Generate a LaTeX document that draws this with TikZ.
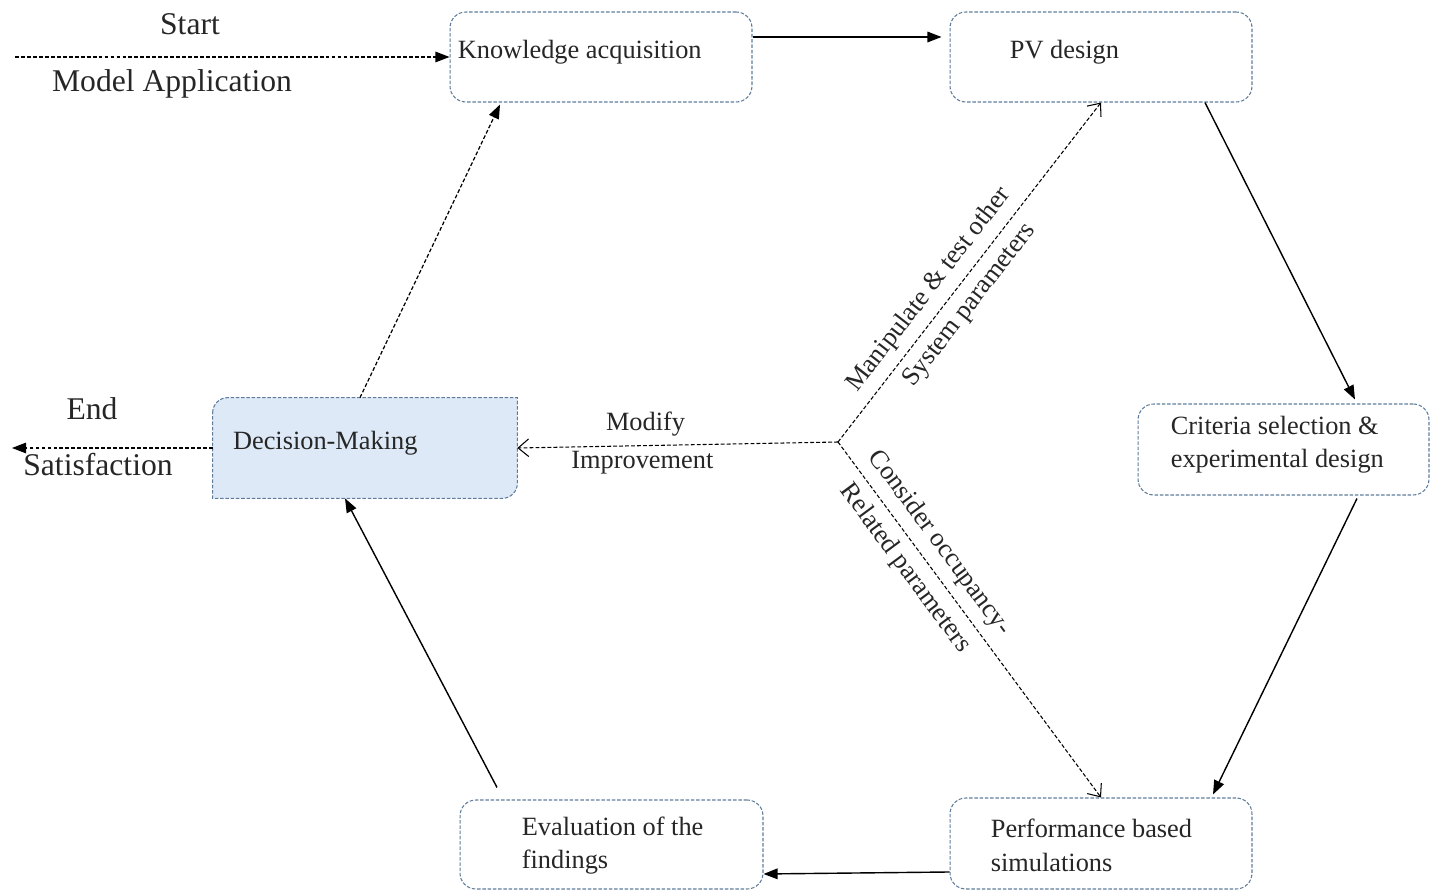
\documentclass[tikz,border=0pt]{standalone}
\usepackage{fontspec}
\setmainfont{Liberation Serif}
\usepackage{tikz}
\usetikzlibrary{arrows.meta, positioning, backgrounds, calc}
\definecolor{boxedge}{RGB}{95,125,155}
\definecolor{decfill}{RGB}{221,233,246}

\begin{document}
\begin{tikzpicture}[
  x=0.02cm, y=-0.02cm,
  box/.style={draw=boxedge, line width=0.6pt, dash pattern=on 2pt off 1pt, rounded corners=9pt, minimum width=6.04cm, minimum height=1.8cm, inner sep=0pt},
  boxtxt/.style={anchor=west, align=left, inner sep=0pt, font=\fontsize{15}{19}\selectfont, text=black!85},
  lbl/.style={anchor=base, inner sep=0pt, font=\fontsize{18}{22}\selectfont, text=black!85},
  side/.style={font=\fontsize{15}{18}\selectfont, text=black!85, inner sep=2pt},
  mainflow/.style={line width=0.8pt, -{Triangle[length=8pt, width=6pt]}},
  dashflow/.style={mainflow, line width=0.7pt, dash pattern=on 2.2pt off 1.2pt},
  feedback/.style={line width=0.6pt, dash pattern=on 2.2pt off 1.2pt, -{Straight Barb[length=6pt, width=10pt]}},
]
\useasboundingbox (0,0) rectangle (1431,891);

% process boxes
\node[box] (know) at (601,57) {};
\node[boxtxt] (knowtxt) at ($(know.west)+(8,-5)$) {Knowledge acquisition};

\node[box] (pv) at (1101,57) {};
\node[boxtxt] (pvtxt) at ($(pv.west)+(60,-5)$) {PV design};

\node[box, minimum width=5.82cm, minimum height=1.82cm] (crit) at (1283.5,449.5) {};
\node[boxtxt] (crittxt) at ($(crit.west)+(33,-5)$) {Criteria selection \&\\experimental design};

\node[box, minimum height=1.82cm] (perf) at (1101,843.5) {};
\node[boxtxt] (perftxt) at ($(perf.west)+(41,2)$) {Performance based\\simulations};

\node[box, minimum width=6.06cm, minimum height=1.78cm] (eval) at (611.5,844.5) {};
\node[boxtxt] (evaltxt) at ($(eval.west)+(62,1)$) {Evaluation of the\\findings};

% decision box, only two corners rounded
\node[minimum width=6.08cm, minimum height=2cm, inner sep=0pt] (dec) at (365,448) {};
\node[boxtxt] (dectxt) at ($(dec.west)+(20,-5)$) {Decision-Making};
\begin{scope}[on background layer]
\filldraw[draw=boxedge, fill=decfill, line width=0.6pt, dash pattern=on 2pt off 1pt]
  ([yshift=-0.3cm]dec.north west) arc[start angle=180, end angle=90, radius=0.3cm]
  -- (dec.north east) -- ([yshift=0.3cm]dec.south east)
  arc[start angle=0, end angle=-90, radius=0.3cm] -- (dec.south west) -- cycle;
\end{scope}

% entry and exit
\coordinate (entry) at (15,57);
\coordinate (exit) at (12,448);
\node[lbl] (start) at (190,35) {Start};
\node[lbl] (model) at (172,92) {Model Application};
\node[lbl] (endlbl) at (92,420) {End};
\node[lbl] (satis) at (98,476) {Satisfaction};
\draw[dashflow] (entry) -- (know.west);
\draw[dashflow] (dec.west) -- (exit);

% main cycle
\draw[mainflow] ([yshift=0.4cm]know.east) -- ([yshift=0.4cm, xshift=-0.16cm]pv.west);
\draw[mainflow] ([xshift=2.08cm]pv.south) -- ([xshift=1.43cm, yshift=0.08cm]crit.north);
\draw[mainflow] ([xshift=1.47cm, yshift=-0.06cm]crit.south) -- ([xshift=2.24cm, yshift=0.06cm]perf.north);
\draw[mainflow] ([yshift=-0.57cm]perf.west) -- ([yshift=-0.59cm]eval.east);
\draw[mainflow] ([xshift=-2.29cm, yshift=0.24cm]eval.north) -- ([xshift=-0.4cm]dec.south);
\draw[dashflow] ([xshift=-0.1cm]dec.north) -- ([xshift=-2.02cm, yshift=-0.04cm]know.south);

% feedback from the branch point
\coordinate (hub) at (838,442);
\draw[feedback] (hub) -- node[side, pos=0.6, above=3pt] (modify) {Modify}
  node[side, pos=0.61, below=1pt] (improve) {Improvement} (dec.east);
\draw[feedback] (hub) -- node[side, sloped, pos=0.41, above=3pt] (manip) {Manipulate \& test other}
  node[side, sloped, pos=0.44, below=3pt] (syspar) {System parameters} (pv.south);
\draw[feedback] (hub) -- node[side, sloped, pos=0.32, above=3pt] (occup) {Consider occupancy-}
  node[side, sloped, pos=0.32, below=3pt] (relpar) {Related parameters} (perf.north);
\end{tikzpicture}
\end{document}
